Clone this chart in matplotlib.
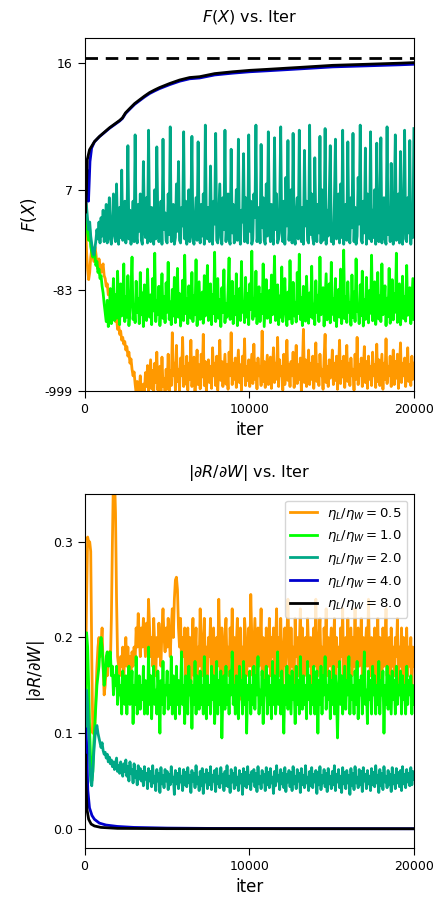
import numpy as np
import matplotlib
matplotlib.use("Agg")
import matplotlib.pyplot as plt

# ---- data -------------------------------------------------------------
ratios = ["0.5", "1.0", "2.0", "4.0", "8.0"]
colors = ["#ff9900", "#00ff00", "#00a886", "#0000cd", "black"]
iter_max = 20000

# F(X) vs iter (noisy runs are sampled evenly over 0..20000, 20 per row)
f_orange = [
    7, -5, -25, -45, -62, -50, -30, -22, -28, -35, -20, -26, -38, -45, -32, -40, -50, -42, -38, -55,
    -60, -75, -70, -95, -85, -110, -130, -115, -160, -140, -190, -170, -230, -200, -260, -240, -300, -280, -330, -310,
    -380, -350, -440, -400, -520, -470, -600, -700, -640, -850, -1050, -800, -1100, -950, -700, -1080, -1100, -850, -1050, -650,
    -900, -550, -1000, -700, -480, -950, -620, -1050, -520, -820, -400, -980, -680, -560, -1000, -450, -900, -750, -1080, -600,
    -950, -420, -1000, -620, -880, -250, -700, -520, -980, -340, -800, -600, -1000, -460, -700, -280, -900, -560, -850, -440,
    -980, -520, -760, -300, -900, -600, -450, -1000, -680, -380, -860, -540, -950, -420, -720, -260, -880, -500, -1000, -640,
    -480, -820, -560, -940, -360, -700, -520, -880, -440, -980, -600, -300, -780, -500, -900, -620, -420, -850, -540, -960,
    -400, -700, -250, -860, -520, -760, -460, -920, -600, -380, -820, -540, -980, -440, -700, -290, -880, -560, -780, -480,
    -900, -620, -420, -840, -330, -760, -520, -950, -460, -700, -560, -880, -240, -800, -500, -920, -640, -430, -860, -580,
    -450, -940, -600, -360, -820, -520, -760, -280, -900, -480, -700, -560, -980, -420, -860, -620, -300, -780, -540, -900,
    -500, -700, -400, -920, -620, -340, -840, -540, -760, -460, -1000, -580, -230, -820, -480, -900, -660, -380, -860, -520,
    -760, -440, -940, -600, -320, -800, -540, -880, -420, -700, -600, -960, -460, -260, -820, -560, -900, -480, -740, -640,
    -380, -860, -520, -780, -440, -960, -600, -300, -840, -500, -720, -440, -920, -580, -340, -800, -520, -880, -460, -700,
    -600, -980, -420, -760, -280, -860, -540, -700, -460, -900, -620, -350, -820, -500, -940, -440, -760, -560, -880, -400,
    -700, -540, -920, -330, -800, -480, -880, -600, -420, -960, -520, -760, -290, -840, -560, -700, -440, -900, -620, -380,
    -860, -500, -740, -420, -940, -580, -320, -820, -520, -700, -460, -900, -600, -360, -800, -540, -880, -440, -760, -520]
f_green = [
    6, 4, -2, -10, -15, -8, -20, -25, -30, -22, -28, -40, -35, -50, -45, -60, -55, -75, -90, -120,
    -150, -190, -110, -215, -160, -80, -200, -130, -60, -185, -95, -175, -48, -140, -205, -70, -165, -120, -38, -190,
    -100, -170, -55, -210, -140, -85, -30, -180, -125, -195, -65, -150, -105, -200, -50, -160, -90, -215, -72, -135,
    -185, -45, -120, -170, -95, -205, -60, -145, -26, -190, -110, -160, -75, -210, -130, -52, -175, -100, -195, -68,
    -150, -36, -180, -115, -205, -82, -165, -58, -195, -125, -44, -170, -92, -212, -140, -63, -185, -28, -155, -105,
    -200, -74, -130, -175, -50, -190, -98, -160, -33, -210, -118, -66, -180, -145, -88, -198, -55, -165, -112, -40,
    -185, -128, -70, -205, -95, -155, -25, -190, -135, -60, -175, -108, -215, -78, -150, -46, -195, -120, -170, -85,
    -31, -180, -140, -65, -200, -100, -160, -52, -210, -125, -80, -185, -35, -150, -115, -195, -58, -170, -92, -205,
    -70, -140, -24, -180, -105, -165, -48, -200, -130, -76, -190, -94, -155, -38, -215, -120, -62, -175, -145, -84,
    -195, -54, -160, -110, -29, -185, -135, -72, -205, -98, -170, -42, -190, -126, -60, -150, -210, -88, -178, -34,
    -140, -200, -67, -165, -116, -192, -50, -155, -27, -180, -102, -210, -75, -145, -188, -56, -130, -198, -90, -168,
    -41, -175, -122, -205, -64, -150, -96, -190, -30, -160, -138, -78, -212, -110, -52, -182, -148, -70, -196, -36,
    -158, -106, -185, -60, -215, -128, -82, -170, -45, -200, -142, -23, -176, -100, -194, -66, -150, -118, -208, -54,
    -172, -88, -190, -32, -146, -124, -200, -72, -164, -48, -212, -108, -180, -58, -136, -196, -84, -154, -28, -186,
    -114, -66, -204, -140, -50, -178, -98, -190, -38, -160, -126, -74, -210, -104, -168, -44, -198, -132, -62, -182,
    -92, -150, -26, -194, -120, -70, -206, -144, -56, -176, -100, -188, -40, -162, -130, -78, -200, -112, -60, -180]
f_teal = [
    7, 5, 2, -3, -8, -4, -12, -18, -25, -28, -22, -15, -8, -14, -4, -17, -2, -12, 1, -16,
    -10, 3, -17, -6, 5, -14, -18, -3, 6, -12, -16, 8, -9, -18, 2, -13, 10, -15, -5, 4,
    -17, -8, 12.5, -14, 1, -18, -6, 4, -16, 13.3, -11, -17, 3, -9, 6, -15, -18, 11, -4, -13,
    5, -17, 13.6, -10, -16, 2, -7, -18, 7, -14, 12.4, -3, -16, -12, 4, -18, 13.0, -8, 0, -15,
    -17, 6, -11, 13.8, -16, -5, 3, -18, -13, 8, -9, 11, -15, -17, 2, -6, 13.5, -14, 4, -18,
    -10, 7, -16, 1, 13.2, -13, -18, -4, 5, -15, 12.8, -9, -17, 3, -12, 6, -18, 13.9, -7, -14,
    2, -16, 10.5, -11, -18, 4, -5, 13.4, -15, -17, 0, 8, -13, -18, 5, -8, 13.6, -16, -3, 6,
    -14, -18, 12.2, -10, 3, -17, -6, 7, -15, 13.0, -12, -18, 1, -4, 11.8, -16, 5, -13, -17, 13.3,
    -9, 4, -18, -14, 6, -2, 13.9, -16, -11, 2, -17, 12.6, -7, 5, -15, -18, 8, -12, 13.5, -5,
    -16, 3, -13, -18, 13.1, -8, 6, -17, -14, 1, 13.8, -10, -16, 4, -18, 9, -6, 12.9, -15, -3,
    7, -17, 13.4, -12, -18, 0, 5, -14, 13.6, -9, -16, 2, -18, 12.1, -6, 4, -15, -17, 13.9, -11,
    6, -13, -18, 11.4, -4, -16, 3, -10, 13.2, -17, 7, -15, -8, 13.7, -18, 1, -12, 5, 12.5, -16,
    -6, -18, 4, 13.0, -14, -9, 6, -17, 8, -13, 13.6, -18, -2, 3, -15, 12.8, -11, -17, 5, -7,
    13.4, -16, 2, -18, -12, 9, -5, 13.9, -15, -17, 4, -10, 12.3, -18, 6, -8, -14, 13.5, -16, 1,
    -13, 7, -18, 12.7, -9, -16, 3, 13.1, -17, -5, 5, -14, -18, 13.8, -11, 2, -16, 10.8, -7, -18,
    4, 13.3, -15, -12, 6, -17, 12.0, -8, -18, 3, 13.6, -14, -16, 5, -10, 12.9, -18, 1, -13, 13.7]
f_blue_iter = [0, 60, 150, 240, 330, 430, 600, 900, 1520, 2128, 2300, 2492,
               2736, 3040, 3343, 3647, 3951, 4255, 4559, 5167, 5775, 6383,
               6991, 7903, 8997, 10030, 11064, 13070, 15076, 17143, 19149,
               20000]
f_blue = [6, 2, 10, 4, 11, 12.3, 12.8, 13.17, 13.72, 14.12, 14.25, 14.49,
          14.67, 14.87, 15.01, 15.14, 15.25, 15.33, 15.40, 15.51, 15.60,
          15.66, 15.68, 15.75, 15.79, 15.82, 15.84, 15.88, 15.92, 15.94,
          15.96, 15.97]
f_black_iter = [0, 50, 110, 164, 304, 608, 912, 1520, 2128, 2300, 2492, 2736,
                3040, 3343, 3647, 3951, 4255, 4559, 5167, 5775, 6383, 6991,
                7903, 8997, 10030, 11064, 13070, 15076, 17143, 19149, 20000]
f_black = [6, 0, 6, 11.2, 12.16, 12.83, 13.20, 13.75, 14.15, 14.28, 14.52,
           14.70, 14.90, 15.04, 15.17, 15.28, 15.36, 15.43, 15.54, 15.63,
           15.69, 15.71, 15.78, 15.82, 15.85, 15.87, 15.91, 15.95, 15.97,
           15.99, 16.0]
f_star = 16.08
f_ticks = [-999, -83, 7, 16]

# |dR/dW| vs iter
g_orange = [
    0.10, 0.16, 0.24, 0.305, 0.30, 0.30, 0.29, 0.18, 0.10, 0.12, 0.11, 0.14, 0.17, 0.19, 0.20, 0.18, 0.19, 0.21, 0.17, 0.14,
    0.15, 0.17, 0.16, 0.18, 0.185, 0.17, 0.22, 0.30, 0.37, 0.37, 0.33, 0.24, 0.18, 0.17, 0.16, 0.18, 0.17, 0.19, 0.16, 0.18,
    0.20, 0.17, 0.19, 0.165, 0.18, 0.16, 0.185, 0.17, 0.19, 0.175, 0.21, 0.19, 0.225, 0.20, 0.18, 0.21, 0.19, 0.22, 0.20, 0.18,
    0.215, 0.19, 0.24, 0.21, 0.18, 0.20, 0.17, 0.22, 0.19, 0.16, 0.20, 0.18, 0.215, 0.19, 0.17, 0.21, 0.23, 0.20, 0.185, 0.21,
    0.19, 0.22, 0.20, 0.18, 0.21, 0.23, 0.20, 0.24, 0.26, 0.263, 0.25, 0.21, 0.19, 0.22, 0.17, 0.20, 0.18, 0.21, 0.16, 0.19,
    0.21, 0.17, 0.20, 0.15, 0.19, 0.22, 0.16, 0.18, 0.21, 0.14, 0.19, 0.17, 0.23, 0.18, 0.16, 0.20, 0.22, 0.17, 0.19, 0.15,
    0.20, 0.18, 0.22, 0.16, 0.19, 0.21, 0.15, 0.18, 0.20, 0.17, 0.24, 0.19, 0.16, 0.21, 0.18, 0.14, 0.20, 0.22, 0.17, 0.19,
    0.16, 0.21, 0.18, 0.23, 0.17, 0.20, 0.15, 0.19, 0.22, 0.16, 0.18, 0.21, 0.135, 0.19, 0.17, 0.22, 0.20, 0.16, 0.18, 0.21,
    0.17, 0.245, 0.20, 0.16, 0.19, 0.22, 0.18, 0.14, 0.21, 0.17, 0.19, 0.23, 0.16, 0.20, 0.18, 0.15, 0.21, 0.19, 0.17, 0.22,
    0.16, 0.20, 0.18, 0.21, 0.15, 0.19, 0.23, 0.17, 0.20, 0.16, 0.22, 0.18, 0.14, 0.19, 0.21, 0.17, 0.20, 0.24, 0.18, 0.16,
    0.21, 0.17, 0.19, 0.15, 0.22, 0.18, 0.20, 0.16, 0.19, 0.23, 0.17, 0.21, 0.15, 0.18, 0.20, 0.16, 0.22, 0.19, 0.17, 0.20,
    0.14, 0.19, 0.21, 0.17, 0.24, 0.18, 0.16, 0.20, 0.22, 0.17, 0.19, 0.15, 0.21, 0.18, 0.23, 0.16, 0.20, 0.17, 0.19, 0.21,
    0.15, 0.18, 0.22, 0.16, 0.20, 0.17, 0.19, 0.14, 0.21, 0.18, 0.23, 0.16, 0.19, 0.20, 0.15, 0.22, 0.17, 0.19, 0.21, 0.16,
    0.20, 0.17, 0.23, 0.15, 0.19, 0.21, 0.17, 0.18, 0.22, 0.16, 0.20, 0.14, 0.19, 0.21, 0.17, 0.24, 0.18, 0.16, 0.20, 0.19,
    0.17, 0.21, 0.15, 0.19, 0.22, 0.16, 0.20, 0.18, 0.15, 0.21, 0.17, 0.19, 0.23, 0.16, 0.18, 0.20, 0.15, 0.21, 0.17, 0.19,
    0.16, 0.20, 0.18, 0.22, 0.15, 0.19, 0.17, 0.21, 0.16, 0.20, 0.14, 0.18, 0.21, 0.16, 0.19, 0.17, 0.20, 0.15, 0.19, 0.17]
g_green = [
    0.06, 0.13, 0.205, 0.19, 0.15, 0.10, 0.07, 0.05, 0.06, 0.09, 0.11, 0.13, 0.15, 0.16, 0.17, 0.19, 0.20, 0.19, 0.17, 0.15,
    0.16, 0.18, 0.185, 0.17, 0.18, 0.185, 0.16, 0.17, 0.14, 0.16, 0.15, 0.17, 0.13, 0.16, 0.14, 0.15, 0.12, 0.165, 0.14, 0.13,
    0.16, 0.12, 0.15, 0.17, 0.13, 0.14, 0.165, 0.11, 0.15, 0.13, 0.18, 0.12, 0.145, 0.16, 0.125, 0.15, 0.135, 0.17, 0.12, 0.155,
    0.14, 0.12, 0.19, 0.13, 0.16, 0.115, 0.15, 0.17, 0.13, 0.145, 0.12, 0.165, 0.14, 0.10, 0.155, 0.13, 0.175, 0.12, 0.15, 0.14,
    0.165, 0.125, 0.15, 0.13, 0.18, 0.12, 0.16, 0.14, 0.115, 0.17, 0.13, 0.155, 0.12, 0.145, 0.185, 0.13, 0.15, 0.11, 0.16, 0.135,
    0.12, 0.17, 0.14, 0.155, 0.105, 0.15, 0.13, 0.175, 0.12, 0.16, 0.14, 0.125, 0.165, 0.13, 0.15, 0.12, 0.18, 0.14, 0.115, 0.16,
    0.13, 0.15, 0.12, 0.17, 0.135, 0.16, 0.11, 0.145, 0.175, 0.12, 0.155, 0.13, 0.165, 0.095, 0.14, 0.16, 0.125, 0.17, 0.13, 0.15,
    0.12, 0.165, 0.14, 0.185, 0.13, 0.15, 0.12, 0.16, 0.135, 0.115, 0.17, 0.14, 0.155, 0.12, 0.175, 0.13, 0.16, 0.10, 0.15, 0.135,
    0.165, 0.12, 0.15, 0.13, 0.17, 0.125, 0.16, 0.14, 0.18, 0.12, 0.145, 0.13, 0.165, 0.11, 0.155, 0.14, 0.17, 0.12, 0.16, 0.13,
    0.15, 0.115, 0.175, 0.13, 0.16, 0.12, 0.14, 0.185, 0.13, 0.155, 0.12, 0.165, 0.14, 0.10, 0.15, 0.13, 0.17, 0.125, 0.16, 0.14,
    0.12, 0.165, 0.135, 0.15, 0.11, 0.17, 0.13, 0.155, 0.12, 0.18, 0.14, 0.125, 0.16, 0.13, 0.15, 0.115, 0.175, 0.135, 0.16, 0.12,
    0.15, 0.13, 0.17, 0.12, 0.145, 0.165, 0.10, 0.155, 0.13, 0.17, 0.12, 0.16, 0.14, 0.18, 0.125, 0.15, 0.135, 0.165, 0.115, 0.155,
    0.13, 0.17, 0.12, 0.16, 0.14, 0.095, 0.15, 0.175, 0.13, 0.16, 0.12, 0.145, 0.17, 0.125, 0.155, 0.14, 0.18, 0.12, 0.16, 0.135,
    0.15, 0.12, 0.165, 0.13, 0.175, 0.115, 0.155, 0.14, 0.16, 0.12, 0.15, 0.185, 0.13, 0.145, 0.11, 0.165, 0.135, 0.155, 0.12, 0.17,
    0.14, 0.16, 0.12, 0.15, 0.13, 0.175, 0.12, 0.155, 0.14, 0.165, 0.10, 0.15, 0.13, 0.17, 0.125, 0.16, 0.14, 0.12, 0.165, 0.135,
    0.155, 0.12, 0.17, 0.13, 0.15, 0.14, 0.165, 0.12, 0.16, 0.135, 0.15, 0.12, 0.17, 0.13, 0.155, 0.14, 0.16, 0.12, 0.15, 0.13]
g_teal = [
    0.04, 0.09, 0.145, 0.13, 0.10, 0.07, 0.05, 0.045, 0.06, 0.08, 0.095, 0.105, 0.108, 0.10, 0.095, 0.09, 0.085, 0.09, 0.082, 0.078,
    0.08, 0.074, 0.078, 0.07, 0.075, 0.068, 0.072, 0.065, 0.07, 0.062, 0.068, 0.074, 0.06, 0.066, 0.058, 0.07, 0.062, 0.055, 0.068, 0.06,
    0.072, 0.055, 0.065, 0.05, 0.07, 0.058, 0.062, 0.048, 0.068, 0.054, 0.06, 0.046, 0.066, 0.052, 0.063, 0.05, 0.06, 0.045, 0.065, 0.052,
    0.058, 0.042, 0.063, 0.05, 0.06, 0.044, 0.066, 0.048, 0.055, 0.04, 0.062, 0.05, 0.058, 0.038, 0.064, 0.047, 0.056, 0.043, 0.062, 0.05,
    0.06, 0.041, 0.057, 0.046, 0.065, 0.05, 0.054, 0.036, 0.061, 0.047, 0.058, 0.042, 0.063, 0.049, 0.055, 0.04, 0.062, 0.046, 0.059, 0.044,
    0.064, 0.048, 0.056, 0.038, 0.061, 0.05, 0.058, 0.043, 0.066, 0.047, 0.054, 0.04, 0.06, 0.045, 0.063, 0.037, 0.057, 0.049, 0.062, 0.042,
    0.058, 0.046, 0.065, 0.041, 0.056, 0.05, 0.061, 0.039, 0.063, 0.047, 0.055, 0.043, 0.064, 0.048, 0.057, 0.04, 0.06, 0.045, 0.066, 0.044,
    0.055, 0.038, 0.062, 0.049, 0.058, 0.042, 0.064, 0.046, 0.054, 0.04, 0.061, 0.048, 0.057, 0.036, 0.063, 0.045, 0.059, 0.043, 0.065, 0.047,
    0.056, 0.041, 0.06, 0.05, 0.062, 0.044, 0.058, 0.039, 0.065, 0.047, 0.055, 0.042, 0.061, 0.049, 0.057, 0.04, 0.064, 0.046, 0.059, 0.043,
    0.063, 0.048, 0.054, 0.037, 0.06, 0.045, 0.066, 0.05, 0.056, 0.041, 0.062, 0.047, 0.058, 0.043, 0.064, 0.039, 0.057, 0.049, 0.061, 0.044,
    0.059, 0.04, 0.065, 0.047, 0.055, 0.042, 0.062, 0.05, 0.058, 0.038, 0.063, 0.046, 0.056, 0.043, 0.066, 0.048, 0.054, 0.04, 0.06, 0.045,
    0.064, 0.043, 0.057, 0.049, 0.061, 0.037, 0.059, 0.046, 0.065, 0.041, 0.056, 0.048, 0.062, 0.044, 0.058, 0.039, 0.063, 0.047, 0.055, 0.042,
    0.06, 0.046, 0.066, 0.04, 0.057, 0.049, 0.062, 0.043, 0.055, 0.038, 0.064, 0.047, 0.059, 0.042, 0.061, 0.048, 0.056, 0.036, 0.063, 0.045,
    0.058, 0.041, 0.065, 0.048, 0.054, 0.043, 0.062, 0.046, 0.06, 0.039, 0.064, 0.05, 0.057, 0.042, 0.061, 0.047, 0.055, 0.04, 0.063, 0.046,
    0.059, 0.044, 0.066, 0.048, 0.056, 0.038, 0.062, 0.045, 0.058, 0.041, 0.065, 0.049, 0.055, 0.043, 0.061, 0.046, 0.057, 0.039, 0.064, 0.047,
    0.056, 0.042, 0.063, 0.048, 0.059, 0.044, 0.061, 0.04, 0.065, 0.047, 0.057, 0.043, 0.062, 0.049, 0.058, 0.045, 0.064, 0.046, 0.06, 0.052]
g_blue_iter = [0, 60, 120, 200, 300, 450, 600, 900, 1300, 2000, 3000, 5000,
               8000, 12000, 20000]
g_blue = [0.03, 0.105, 0.09, 0.04, 0.022, 0.014, 0.01, 0.006, 0.004, 0.0025,
          0.0015, 0.0008, 0.0004, 0.0002, 0.0001]
g_black_iter = [0, 40, 80, 150, 250, 400, 600, 1000, 2000, 5000, 20000]
g_black = [0.02, 0.078, 0.05, 0.02, 0.01, 0.005, 0.003, 0.0015, 0.0005,
           0.0002, 0.0001]


# ---- y scale of the F(X) panel: log-like in (17 - F), stretched near the top
U_KNOTS = [-2.0, 0.0, 1.0, 2.0, 3.007, 5.0]
P_KNOTS = [-191.0, 63.0, 190.0, 290.0, 391.0, 591.0]


def fwd(f):
    u = np.log10(np.clip(17.0 - np.asarray(f, dtype=float), 1e-6, None))
    return -np.interp(u, U_KNOTS, P_KNOTS)


def inv(p):
    u = np.interp(-np.asarray(p, dtype=float), P_KNOTS, U_KNOTS)
    return 17.0 - 10.0 ** u


def grid(vals):
    return np.linspace(0, iter_max, len(vals))


fig = plt.figure(figsize=(4.38, 8.98), dpi=100)
ax1 = fig.add_axes([0.193, 0.5646, 0.752, 0.3931])
ax2 = fig.add_axes([0.193, 0.0557, 0.752, 0.3942])

lw = 2.0
top_series = [(grid(f_orange), f_orange), (grid(f_green), f_green),
              (grid(f_teal), f_teal), (f_blue_iter, f_blue),
              (f_black_iter, f_black)]
bot_series = [(grid(g_orange), g_orange), (grid(g_green), g_green),
              (grid(g_teal), g_teal), (g_blue_iter, g_blue),
              (g_black_iter, g_black)]

for (x, y), c in zip(top_series, colors):
    ax1.plot(x, y, color=c, lw=lw)
ax1.axhline(f_star, color="black", lw=2, ls=(0, (4.5, 2.8)))
ax1.set_yscale("function", functions=(fwd, inv))
ax1.set_ylim(-999, 16.36)
ax1.set_yticks(f_ticks)
ax1.set_yticklabels([str(t) for t in f_ticks])
ax1.yaxis.set_minor_locator(plt.NullLocator())
ax1.set_ylabel("$F(X)$", fontsize=12)
ax1.set_title("$F(X)$ vs. Iter", fontsize=11.5, pad=12)

for (x, y), c, r in zip(bot_series, colors, ratios):
    ax2.plot(x, y, color=c, lw=lw, label=r"$\eta_L/\eta_W = %s$" % r)
ax2.set_ylim(-0.02, 0.35)
ax2.set_yticks([0.0, 0.1, 0.2, 0.3])
ax2.set_ylabel(r"$|\partial R/\partial W|$", fontsize=12)
ax2.set_title(r"$|\partial R/\partial W|$ vs. Iter", fontsize=11.5, pad=12)
ax2.legend(loc="upper right", fontsize=9.5, handlelength=2.0)

for ax in (ax1, ax2):
    ax.set_xlim(0, iter_max)
    ax.set_xticks([0, 10000, 20000])
    ax.set_xlabel("iter", fontsize=12)
    ax.tick_params(labelsize=9, length=5)

fig.savefig("out.png", dpi=100)
